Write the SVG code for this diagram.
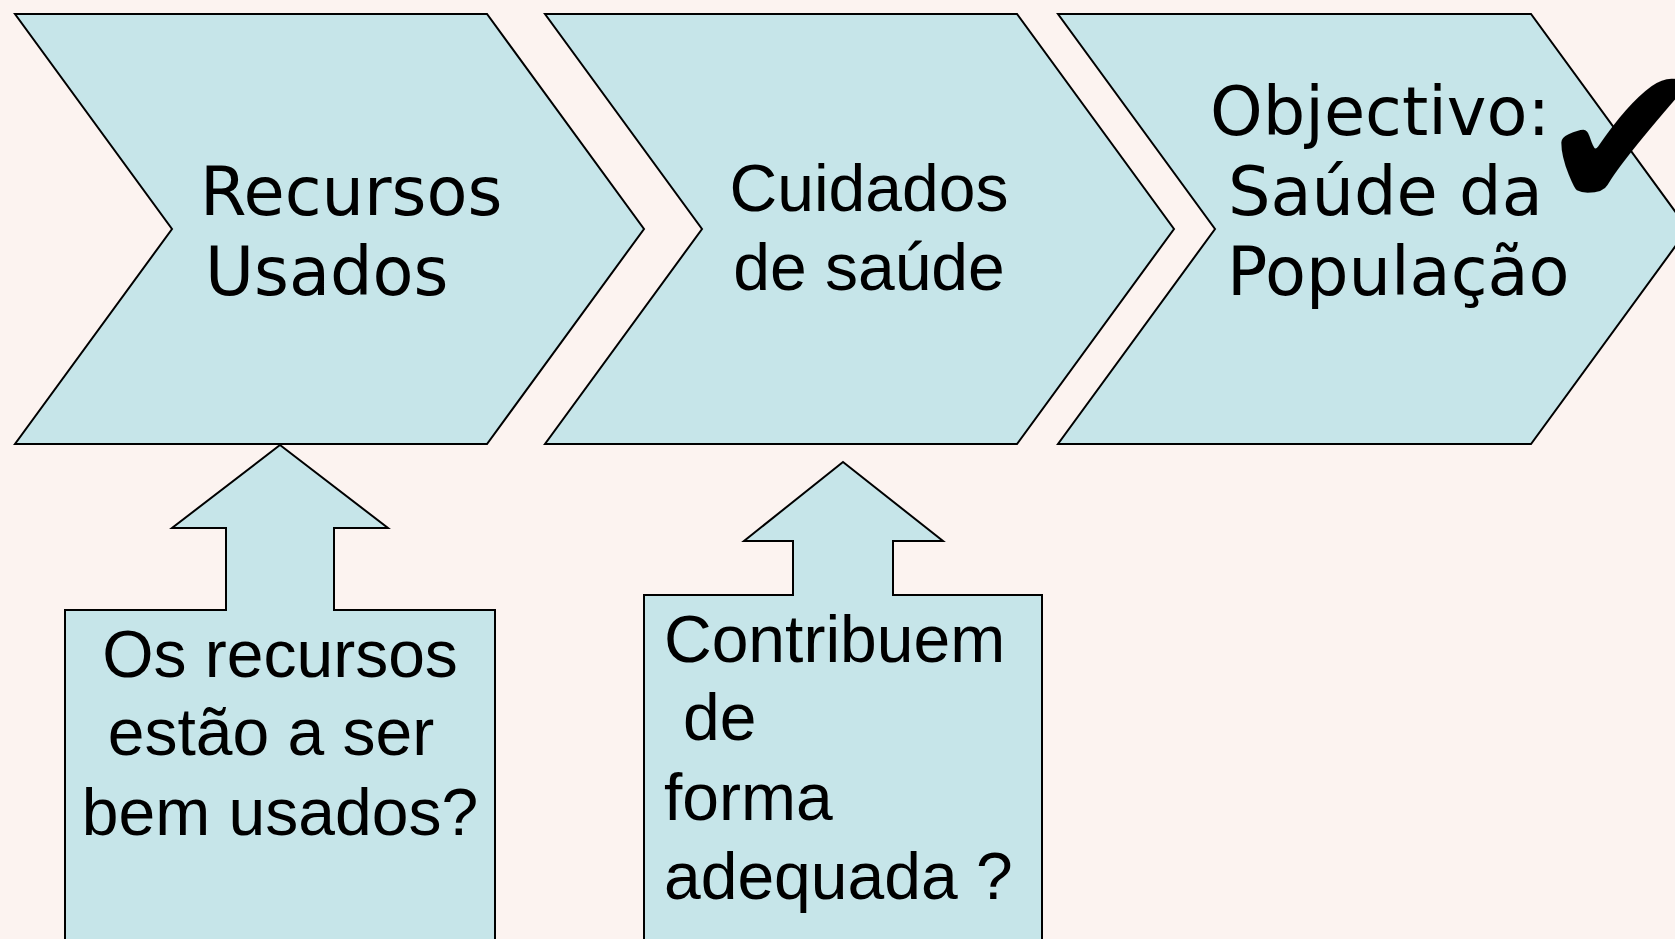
<svg xmlns="http://www.w3.org/2000/svg" width="1675" height="939" viewBox="0 0 1675 939">
<style>
.shape{fill:#C6E5E9;stroke:#000;stroke-width:2;stroke-linejoin:miter}
.dj{font-family:"DejaVu Sans",sans-serif;font-size:67px;fill:#000}
.ar{font-family:"Liberation Sans",Arial,sans-serif;font-size:66px;fill:#000}
.mid{text-anchor:middle}
</style>
<rect x="0" y="0" width="1675" height="939" fill="#FCF3F0"/>
<g id="connectors"></g>
<g id="node-recursos">
<polygon class="shape" points="15,14 487,14 644,229 487,444 15,444 172,229"/>
<text class="dj" x="200" y="215">Recursos</text>
<text class="dj" x="205" y="295">Usados</text>
</g>
<g id="node-cuidados">
<polygon class="shape" points="545,14 1017,14 1174,229 1017,444 545,444 702,229"/>
<text class="ar mid" x="869" y="211">Cuidados</text>
<text class="ar mid" x="869" y="290">de saúde</text>
</g>
<g id="node-objectivo">
<polygon class="shape" points="1058,14 1531,14 1688,229 1531,444 1058,444 1215,229"/>
<text class="dj" x="1210" y="135">Objectivo:</text>
<text class="dj" x="1228" y="215">Saúde da</text>
<text class="dj" x="1227" y="295">População</text>
<text x="1537" y="211" font-family="DejaVu Sans,sans-serif" font-size="210" fill="#000">✔</text>
</g>
<g id="node-pergunta-recursos">
<polygon class="shape" points="280,445 388,528 334,528 334,610 495,610 495,945 65,945 65,610 226,610 226,528 172,528"/>
<text class="ar mid" x="280" y="677">Os recursos</text>
<text class="ar mid" x="271" y="755">estão a ser</text>
<text class="ar mid" x="280" y="835">bem usados?</text>
</g>
<g id="node-pergunta-cuidados">
<polygon class="shape" points="843,462 943,541 893,541 893,595 1042,595 1042,945 644,945 644,595 793,595 793,541 744,541"/>
<text class="ar" x="664" y="662">Contribuem</text>
<text class="ar" x="683" y="740">de</text>
<text class="ar" x="664" y="820">forma</text>
<text class="ar" x="664" y="899">adequada ?</text>
</g>
</svg>
